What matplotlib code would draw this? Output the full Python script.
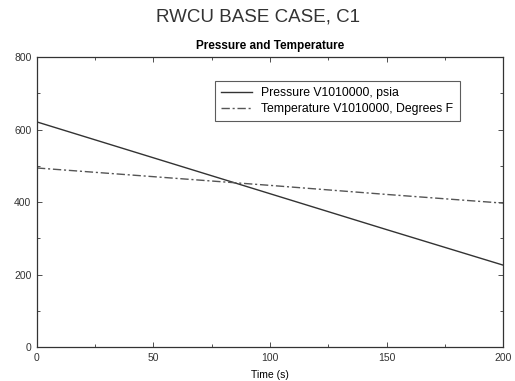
import matplotlib
matplotlib.use("Agg")
import matplotlib.pyplot as plt
from matplotlib.ticker import MultipleLocator

plt.rcParams['font.family'] = ['Liberation Sans', 'DejaVu Sans']

# values
time = [0, 50, 100, 150, 200]
pressure = [621, 522, 423, 324, 226]
temperature = [494, 470, 446, 421, 397]

fig = plt.figure(figsize=(5.15, 3.81), dpi=100)
ax = fig.add_axes([0.0718, 0.0892, 0.905, 0.761])

ax.plot(time, pressure, color='#333333', lw=1.0, ls='-',
        label='Pressure V1010000, psia')
ax.plot(time, temperature, color='#555555', lw=1.0, ls=(0, (6, 2, 1.5, 2)),
        label='Temperature V1010000, Degrees F')

ax.set_xlim(0, 200)
ax.set_ylim(0, 800)
ax.xaxis.set_major_locator(MultipleLocator(50))
ax.xaxis.set_minor_locator(MultipleLocator(25))
ax.yaxis.set_major_locator(MultipleLocator(200))
ax.yaxis.set_minor_locator(MultipleLocator(100))
ax.tick_params(which='both', direction='in', top=True, right=True,
               labelsize=7.5, colors='#333333', pad=4)
ax.tick_params(which='major', length=3.5, width=0.6)
ax.tick_params(which='minor', length=2, width=0.6)
for s in ax.spines.values():
    s.set_linewidth(0.9)
    s.set_color('#333333')

ax.set_xlabel('Time (s)', fontsize=7.5, labelpad=5)
ax.set_title('Pressure and Temperature', fontsize=8.5, fontweight='bold', pad=6)
fig.text(0.5, 0.955, 'RWCU BASE CASE, C1', ha='center', va='center',
         fontsize=13.5, color='#333333')

leg = ax.legend(loc='upper left', bbox_to_anchor=(0.382, 0.917), fontsize=8.8,
                frameon=True, fancybox=False, edgecolor='#333333',
                handlelength=2.5, borderpad=0.5, labelspacing=0.3,
                borderaxespad=0)
leg.get_frame().set_linewidth(0.8)

fig.savefig('out.png', dpi=100)
